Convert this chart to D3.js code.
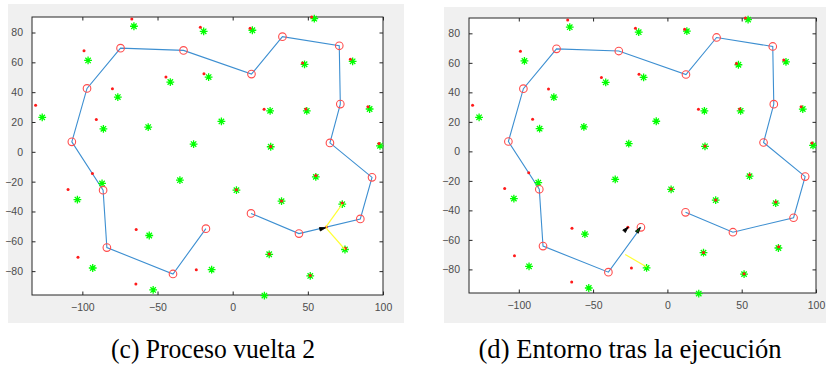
<!DOCTYPE html>
<html>
<head>
<meta charset="utf-8">
<script src="https://cdn.jsdelivr.net/npm/d3@7"></script>
<style>
  body { margin: 0; background: #fff; }
  svg { display: block; }
</style>
</head>
<body>
<div id="chart"></div>
<script>
// route waypoints (red circles joined by the blue line)
const routeX = [12.2, 44.1, 84.9, 92.7, 64.7, 71.6, 70.9, 33.1, 12.5, -32.7, -74.6, -96.9, -107.0, -86.2, -83.7, -39.7, -17.8];
const routeY = [-41.3, -54.8, -45.0, -17.1, 6.0, 32.0, 71.1, 77.2, 52.1, 68.0, 69.5, 42.5, 6.7, -25.7, -64.2, -81.9, -51.5];

// green stars
const starX = [-126.7, -96.2, -65.7, -76.4, -86.0, -56.2, -41.5, -26.0, -19.3, -16.0, -86.9, -103.3, -35.1, -55.5, -93.1, -52.9, -14.0,
  13.1, 54.3, 47.8, 79.8, 24.9, 49.3, 91.1, -7.5, 25.3, 98.0, 55.3, 2.5, 32.5, 72.9, 24.3, 74.7, 51.6, 21.1];
const starY = [23.1, 61.3, 84.2, 36.7, 15.4, 16.6, 46.8, 5.2, 80.8, 50.1, -21.2, -32.0, -19.0, -56.1, -77.9, -92.6, -79.0,
  81.5, 89.3, 58.7, 60.7, 27.5, 27.5, 28.7, 20.4, 3.4, 4.0, -16.8, -25.7, -33.1, -35.1, -68.7, -65.5, -83.2, -96.4];

// red dots
const dotX = [-131.1, -98.9, -80.0, -90.7, -67.1, -44.4, -21.5, -19.1, -93.3, -109.5, -64.2, -102.9, -64.4, -24.2,
  11.6, 52.5, 46.5, 78.3, 20.9, 48.7, 90.0, 25.3, 97.3, 55.3, 2.5, 32.5, 72.9, 24.3, 74.9, 51.6];
const dotY = [31.3, 67.8, 42.3, 21.7, 89.1, 50.1, 83.5, 52.3, -14.5, -25.2, -52.1, -70.7, -88.6, -79.0,
  82.8, 90.4, 59.5, 62.0, 28.5, 28.7, 30.2, 3.6, 5.6, -15.8, -25.5, -33.0, -34.3, -68.5, -64.6, -83.0];

// panel (c): robot, its reading and the yellow links
const robotC = [{x: 59.6, y: -51.5, dir: 14, fill: "#000"}];
const readC = [{x: 62.3, y: -50.4}];
const linkC = [[61.8, -50.7, 72.9, -35.1], [61.8, -50.7, 74.7, -65.5]];

// panel (d)
const robotD = [{x: -28.0, y: -53.0, dir: 45, fill: "#000"}, {x: -19.6, y: -53.4, dir: 55, fill: "#0a5a0a"}];
const readD = [{x: -26.6, y: -51.4}];
const linkD = [[-28.4, -69.9, -13.9, -78.4]];

const xTicks = [-100, -50, 0, 50, 100];
const yTicks = [-80, -60, -40, -20, 0, 20, 40, 60, 80];
const xDomain = [-133.5, 100];
const yDomain = [-96, 90.4];

const svg = d3.select("#chart").append("svg")
  .attr("width", 829).attr("height", 369);

function drawPanel(cfg) {
  svg.append("rect")
    .attr("x", cfg.bg[0]).attr("y", cfg.bg[1])
    .attr("width", cfg.bg[2]).attr("height", cfg.bg[3])
    .attr("fill", "#f0f0f0");

  const x = d3.scaleLinear().domain(xDomain).range([cfg.left, cfg.right]);
  const y = d3.scaleLinear().domain(yDomain).range([cfg.bottom, cfg.top]);

  const g = svg.append("g");
  g.append("rect")
    .attr("x", cfg.left).attr("y", cfg.top)
    .attr("width", cfg.right - cfg.left).attr("height", cfg.bottom - cfg.top)
    .attr("fill", "#fff");

  const axisStyle = sel => {
    sel.select(".domain").remove();
    sel.selectAll("line").attr("stroke", "#262626");
    sel.selectAll("text").attr("fill", "#4d4d4d")
      .style("font-family", "'Liberation Sans', Arial, sans-serif")
      .style("font-size", "10.5px");
  };

  g.append("g").attr("transform", `translate(0,${cfg.bottom})`)
    .call(d3.axisBottom(x).tickValues(xTicks).tickSizeInner(-3.5).tickSizeOuter(0).tickPadding(9))
    .call(axisStyle);
  g.append("g").attr("transform", `translate(0,${cfg.top})`)
    .call(d3.axisTop(x).tickValues(xTicks).tickSizeInner(-3.5).tickSizeOuter(0).tickFormat(""))
    .call(axisStyle);
  g.append("g").attr("transform", `translate(${cfg.left},0)`)
    .call(d3.axisLeft(y).tickValues(yTicks).tickSizeInner(-3.5).tickSizeOuter(0).tickPadding(9))
    .call(axisStyle);
  g.append("g").attr("transform", `translate(${cfg.right},0)`)
    .call(d3.axisRight(y).tickValues(yTicks).tickSizeInner(-3.5).tickSizeOuter(0).tickFormat(""))
    .call(axisStyle);

  g.append("rect")
    .attr("x", cfg.left).attr("y", cfg.top)
    .attr("width", cfg.right - cfg.left).attr("height", cfg.bottom - cfg.top)
    .attr("fill", "none").attr("stroke", "#262626").attr("stroke-width", 1);

  // route
  const route = routeX.map((v, i) => [v, routeY[i]]);
  g.append("path")
    .datum(route)
    .attr("d", d3.line().x(d => x(d[0])).y(d => y(d[1])))
    .attr("fill", "none").attr("stroke", "#3d8fd1").attr("stroke-width", 1.1);

  // stars
  const stars = starX.map((v, i) => [v, starY[i]]);
  const s = 3.9, sd = 2.7;
  g.append("g").selectAll("path").data(stars).join("path")
    .attr("transform", d => `translate(${x(d[0])},${y(d[1])})`)
    .attr("d", `M${-s},0H${s}M0,${-s}V${s}M${-sd},${-sd}L${sd},${sd}M${-sd},${sd}L${sd},${-sd}`)
    .attr("stroke", "#00ff00").attr("stroke-width", 1.3).attr("fill", "none");

  // red dots
  const dots = dotX.map((v, i) => [v, dotY[i]]).concat(cfg.reads.map(d => [d.x, d.y]));
  g.append("g").selectAll("circle").data(dots).join("circle")
    .attr("cx", d => x(d[0])).attr("cy", d => y(d[1])).attr("r", 1.5)
    .attr("fill", "#ff1a1a");

  // waypoint circles
  g.append("g").selectAll("circle").data(route).join("circle")
    .attr("cx", d => x(d[0])).attr("cy", d => y(d[1])).attr("r", 3.8)
    .attr("fill", "none").attr("stroke", "#ff4d4d").attr("stroke-width", 1.1);

  // yellow links
  g.append("g").selectAll("line").data(cfg.links).join("line")
    .attr("x1", d => x(d[0])).attr("y1", d => y(d[1]))
    .attr("x2", d => x(d[2])).attr("y2", d => y(d[3]))
    .attr("stroke", "#ffff33").attr("stroke-width", 1.2);

  // robots
  g.append("g").selectAll("path").data(cfg.robots).join("path")
    .attr("transform", d => `translate(${x(d.x)},${y(d.y)}) rotate(${90 - d.dir})`)
    .attr("d", "M0,-3.5L1.8,2.5L-1.8,2.5Z")
    .attr("fill", d => d.fill).attr("stroke", "#000").attr("stroke-width", 0.8);

  svg.append("text")
    .attr("x", cfg.capX).attr("y", 358)
    .attr("text-anchor", "middle")
    .attr("textLength", cfg.capLen).attr("lengthAdjust", "spacingAndGlyphs")
    .style("font-family", "'Liberation Serif', 'Times New Roman', serif")
    .style("font-size", "28px")
    .attr("fill", "#000")
    .text(cfg.caption);
}

drawPanel({
  bg: [8, 4, 396, 319], left: 32, right: 383, top: 17, bottom: 295,
  robots: robotC, reads: readC, links: linkC,
  caption: "(c) Proceso vuelta 2", capX: 213, capLen: 204
});
drawPanel({
  bg: [444, 7, 382, 316], left: 469, right: 816, top: 18, bottom: 293,
  robots: robotD, reads: readD, links: linkD,
  caption: "(d) Entorno tras la ejecución", capX: 630, capLen: 303
});
</script>
</body>
</html>
